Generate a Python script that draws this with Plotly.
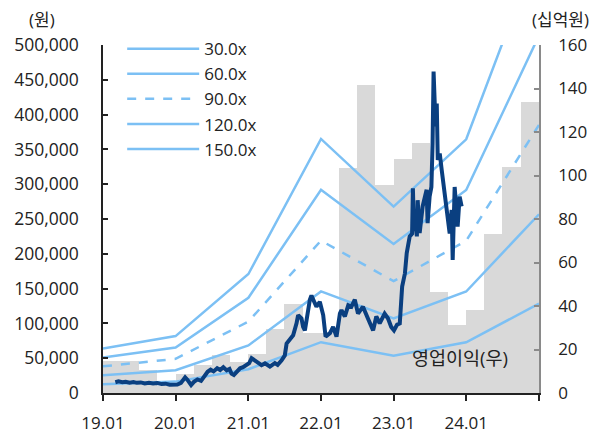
import pandas as pd
import plotly.graph_objects as go

# ---- data ----
quarters = ["2019Q1", "2019Q2", "2019Q3", "2019Q4",
            "2020Q1", "2020Q2", "2020Q3", "2020Q4",
            "2021Q1", "2021Q2", "2021Q3", "2021Q4",
            "2022Q1", "2022Q2", "2022Q3", "2022Q4",
            "2023Q1", "2023Q2", "2023Q3", "2023Q4",
            "2024Q1", "2024Q2", "2024Q3", "2024Q4"]
op_income = [14.7, 14.7, 10.8, 3.0,
             8.7, 13.0, 17.5, 14.4,
             17.8, 29.2, 40.9, 27.6,
             27.5, 103.3, 141.8, 95.8,
             107.5, 115.1, 46.4, 31.3,
             38.2, 73.1, 103.9, 133.8]

band_dates = ["2019-01-01", "2020-01-01", "2021-01-01", "2022-01-01",
              "2023-01-01", "2024-01-01", "2025-01-01"]
per_30 = [12750, 16350, 34200, 73000, 53550, 72900, 128400]
per_60 = [25500, 32700, 68400, 146000, 107100, 145800, 256800]
per_90 = [38250, 49050, 102600, 219000, 160650, 218700, 385200]
per_120 = [51000, 65400, 136800, 292000, 214200, 291600, 513600]
per_150 = [63750, 81750, 171000, 365000, 267750, 364500, 642000]
band_names = ["30.0x", "60.0x", "90.0x", "120.0x", "150.0x"]

price_dates = [
    "2019-03-04", "2019-03-20", "2019-04-08", "2019-04-25", "2019-05-15", "2019-06-03",
    "2019-06-20", "2019-07-10", "2019-07-30", "2019-08-20", "2019-09-10", "2019-10-01",
    "2019-10-22", "2019-11-12", "2019-12-02", "2019-12-20", "2020-01-10", "2020-01-28",
    "2020-02-10", "2020-02-18", "2020-02-28", "2020-03-10", "2020-03-19", "2020-04-02",
    "2020-04-20", "2020-05-08", "2020-05-26", "2020-06-10", "2020-06-25", "2020-07-10",
    "2020-07-28", "2020-08-12", "2020-08-28", "2020-09-14", "2020-09-28", "2020-10-08",
    "2020-10-20", "2020-11-05", "2020-11-20", "2020-12-05", "2020-12-20", "2021-01-05",
    "2021-01-17", "2021-02-03", "2021-02-20", "2021-03-08", "2021-03-25", "2021-04-19",
    "2021-05-14", "2021-05-28", "2021-06-17", "2021-07-03", "2021-07-12", "2021-07-28",
    "2021-08-14", "2021-08-31", "2021-09-08", "2021-09-25", "2021-10-03", "2021-10-12",
    "2021-10-20", "2021-11-06", "2021-11-14", "2021-12-01", "2021-12-09", "2021-12-26",
    "2022-01-12", "2022-01-24", "2022-02-05", "2022-02-15", "2022-03-03", "2022-03-20",
    "2022-04-06", "2022-04-14", "2022-05-01", "2022-05-18", "2022-06-03", "2022-06-20",
    "2022-07-06", "2022-07-31", "2022-08-25", "2022-09-20", "2022-10-06", "2022-10-23",
    "2022-11-17", "2022-12-04", "2022-12-20", "2023-01-03", "2023-01-18", "2023-02-01",
    "2023-02-13", "2023-02-27", "2023-03-08", "2023-03-16", "2023-03-23", "2023-04-04",
    "2023-04-08", "2023-04-13", "2023-04-17", "2023-04-28", "2023-05-02", "2023-05-12",
    "2023-05-27", "2023-06-16", "2023-06-21", "2023-07-01", "2023-07-10", "2023-07-16",
    "2023-07-21", "2023-07-31", "2023-08-06", "2023-08-11", "2023-08-21", "2023-08-31",
    "2023-09-15", "2023-09-30", "2023-10-10", "2023-10-20", "2023-10-25", "2023-11-04",
    "2023-11-14", "2023-11-19", "2023-11-29", "2023-12-09"]
price_values = [
    15500, 16800, 15600, 16200, 14800, 15600,
    14600, 15200, 13800, 14600, 13600, 14200,
    12800, 13400, 12000, 12600, 12200, 14500,
    19000, 22500, 19500, 15000, 11500, 16000,
    19500, 17500, 25000, 30500, 33500, 31000,
    35500, 33000, 37000, 32500, 34500, 28000,
    26000, 31500, 35500, 37000, 40000, 43000,
    50000, 47000, 43000, 40000, 42500, 38000,
    43000, 40500, 47000, 54000, 71000, 76000,
    83000, 100000, 112000, 107000, 95000, 90000,
    107000, 134000, 140000, 129000, 124000, 131000,
    112000, 81000, 84000, 86000, 95000, 81000,
    114000, 119000, 110000, 126000, 124000, 134000,
    114000, 124000, 107000, 90000, 110000, 100000,
    114000, 107000, 95000, 90000, 98000, 100000,
    153000, 172000, 201000, 220000, 225000, 229000,
    294000, 240000, 253000, 225000, 277000, 230000,
    268000, 292000, 244000, 282000, 296000, 359000,
    462000, 383000, 416000, 335000, 344000, 320000,
    287000, 258000, 229000, 263000, 191000, 296000,
    248000, 239000, 282000, 268000]

x_ticks = ["2019-01-01", "2020-01-01", "2021-01-01", "2022-01-01",
           "2023-01-01", "2024-01-01", "2025-01-01"]
x_tick_labels = ["19.01", "20.01", "21.01", "22.01", "23.01", "24.01", ""]

# ---- figure ----
FONT = "Open Sans, Noto Sans CJK KR"
TXT = "#222222"
BAND = "#7cc0f4"

periods = pd.PeriodIndex(quarters, freq="Q")
q_start = periods.start_time
q_width = [(p.end_time - p.start_time).total_seconds() * 1000 for p in periods]

fig = go.Figure()
fig.add_trace(go.Bar(x=q_start, y=op_income, width=q_width, offset=0,
                     marker=dict(color="#d9d9d9", line=dict(width=0)),
                     showlegend=False, yaxis="y", hoverinfo="skip"))

bands = [per_30, per_60, per_90, per_120, per_150]
for name, vals in zip(band_names, bands):
    fig.add_trace(go.Scatter(x=band_dates, y=vals, mode="lines", name=name,
                             line=dict(color=BAND, width=2.5,
                                       dash="dash" if name == "90.0x" else "solid"),
                             yaxis="y2"))

fig.add_trace(go.Scatter(x=price_dates, y=price_values, mode="lines",
                         line=dict(color="#0a3f80", width=4),
                         showlegend=False, yaxis="y2"))

fig.update_layout(
    width=589, height=430,
    margin=dict(l=95, r=58, t=37, b=45, autoexpand=False),
    paper_bgcolor="white", plot_bgcolor="white",
    font=dict(family=FONT, size=17, color=TXT),
    bargap=0,
    xaxis=dict(type="date", range=["2019-01-01", "2025-01-01"],
               tickvals=x_ticks, ticktext=x_tick_labels,
               showline=True, linecolor="#222", linewidth=1.5,
               ticks="outside", ticklen=6, tickcolor="#222", tickwidth=1.5,
               ticklabelstandoff=8,
               showgrid=False, zeroline=False),
    yaxis=dict(side="right", range=[0, 160], dtick=20,
               showline=True, linecolor="#8a8a8a", linewidth=1.5,
               ticks="inside", ticklen=5, tickcolor="#8a8a8a", tickwidth=1.5,
               ticklabelstandoff=14,
               showgrid=False, zeroline=False),
    yaxis2=dict(side="left", overlaying="y", range=[0, 500000], dtick=50000,
                tickformat=",", tickfont=dict(size=17.5),
                showline=True, linecolor="#222", linewidth=1.5,
                ticks="inside", ticklen=5, tickcolor="#222", tickwidth=1.5,
                ticklabelstandoff=19,
                showgrid=False, zeroline=False),
    legend=dict(x=0.044, y=1.040, xanchor="left", yanchor="top",
                bgcolor="rgba(0,0,0,0)", itemwidth=72,
                font=dict(family=FONT, size=17, color=TXT)),
    annotations=[
        dict(text="(원)", xref="paper", yref="paper", x=-0.14, y=1.072,
             xanchor="center", yanchor="middle", showarrow=False,
             font=dict(size=17)),
        dict(text="(십억원)", xref="paper", yref="paper", x=1.05, y=1.072,
             xanchor="center", yanchor="middle", showarrow=False,
             font=dict(size=17)),
        dict(text="영업이익(우)", xref="paper", yref="paper", x=0.818, y=0.103,
             xanchor="center", yanchor="middle", showarrow=False,
             font=dict(size=18.5)),
    ],
)

fig.write_html("out.html")
